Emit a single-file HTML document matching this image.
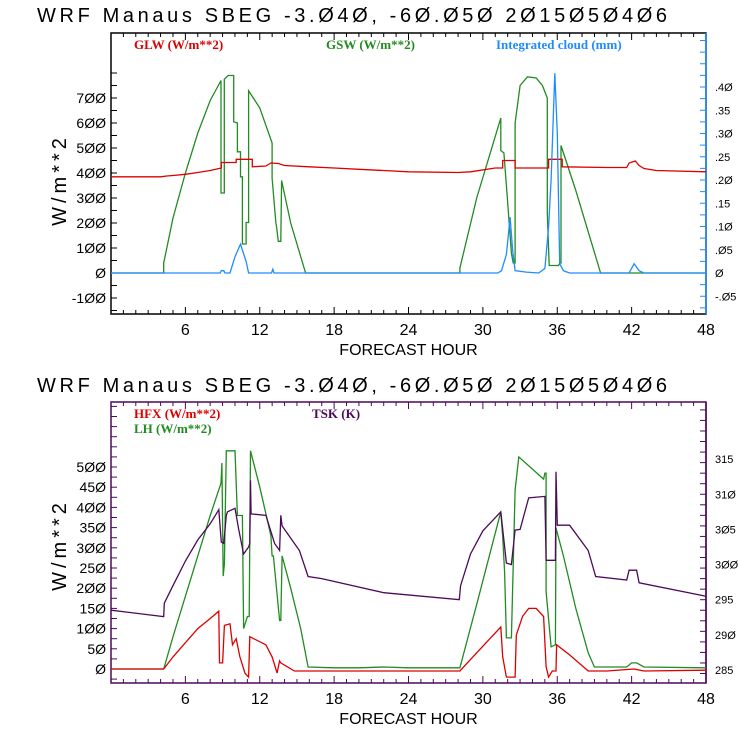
<!DOCTYPE html>
<html><head><meta charset="utf-8"><style>
html,body{margin:0;padding:0;background:#fff;}
svg{display:block;font-family:"Liberation Sans",sans-serif;}
</style></head><body>
<svg id="c" width="740" height="740" viewBox="0 0 740 740">
<text x="37" y="22" font-size="20" textLength="630" lengthAdjust="spacing" fill="#000">WRF  Manaus SBEG   -3.Ø4Ø, -6Ø.Ø5Ø  2Ø15Ø5Ø4Ø6</text>
<text x="37" y="392" font-size="20" textLength="630" lengthAdjust="spacing" fill="#000">WRF  Manaus SBEG   -3.Ø4Ø, -6Ø.Ø5Ø  2Ø15Ø5Ø4Ø6</text>
<g id="g1"></g>
<g id="g2"></g>
</svg>
<script>
// ---- Top chart data ----
const glwHours=[0,4,4.5,5,6,7,8,8.9,8.9,10.1,10.1,11.4,11.4,12.5,12.9,13.5,14,16,18,20,22,24,28,29,31,31.6,31.6,32.6,32.6,35.3,35.3,36.4,36.4,40,41.6,41.8,42.3,42.6,43,44,48];
const glwVals =[385,385,388,390,395,402,410,420,442,442,455,455,425,428,440,438,430,425,420,415,410,405,402,405,420,420,450,450,420,420,455,455,425,422,422,440,448,430,418,410,405];
const gswHours=[0,4.25,4.25,5,6,7,8,8.87,8.87,9.14,9.14,9.45,9.9,9.9,10.2,10.2,10.45,10.45,10.6,10.6,10.9,10.9,11.1,11.1,12,13,13,13.3,13.35,13.5,13.7,13.76,14.5,15.7,28.15,28.15,29.5,31.45,31.45,31.7,31.9,32.3,32.45,32.6,32.6,33.0,33.6,34.3,34.8,35.2,35.2,35.35,35.5,36.1,36.2,36.3,36.3,37.5,39.5,48];
const gswVals =[0,0,40,220,400,560,690,770,320,320,775,790,790,605,600,485,485,385,385,116,116,202,202,729,660,520,380,200,187,127,127,370,200,0,0,20,300,620,490,480,350,80,40,40,600,750,785,780,750,700,240,30,30,30,40,40,510,330,0,0];
const cldHours=[0,8.8,8.9,9.1,9.2,9.6,10.0,10.45,10.9,11.1,12.95,13.05,13.15,31.2,31.5,31.9,32.2,32.4,32.6,33.5,34.5,35.0,35.3,35.5,35.8,36.0,36.2,36.5,37.0,41.8,42.2,42.6,43,48];
const cldVals =[0,0,0.005,0.005,0,0,0.035,0.062,0.025,0,0,0.008,0,0,0.005,0.04,0.12,0.05,0.005,0.002,0,0.01,0.1,0.2,0.43,0.3,0.02,0.005,0,0,0.02,0.005,0,0];
const leftTicks1=[-100,0,100,200,300,400,500,600,700];
const rightTicks1=[-0.05,0,0.05,0.10,0.15,0.20,0.25,0.30,0.35,0.40];
const rightLabels1=["-.05","0",".05",".10",".15",".20",".25",".30",".35",".40"];
const hourTicks=[6,12,18,24,30,36,42,48];
// ---- Bottom chart data ----
const lhHours=[0,4.25,5,6,7,8,8.87,8.95,9.05,9.15,9.3,9.4,10.0,10.2,10.6,10.7,11.0,11.15,11.25,12,12.9,13.0,13.1,13.6,13.7,13.8,14.5,15.3,15.9,18,20,22,24,28.15,29.5,31.45,31.6,31.75,31.9,32.3,32.6,32.6,32.9,34.9,35.0,35.1,35.1,35.5,35.85,35.9,36.5,37.5,38.5,39.0,41.6,42.0,42.4,43,48];
const lhVals =[0,0,80,180,280,380,460,510,230,260,540,540,540,380,380,100,130,130,540,450,330,280,280,120,120,280,200,100,5,3,3,5,3,3,160,389,327,240,77,77,443,443,525,470,485,485,191,55,60,349,280,150,40,5,5,15,15,5,3];
const hfxHours=[0,4.25,5,6,7,8,8.7,8.75,9.0,9.15,9.6,9.8,10.1,10.4,10.8,11.1,11.2,12.5,13.0,13.4,13.6,13.7,14.8,20,28.15,29.5,31.45,31.6,31.9,32.6,32.7,33.2,33.7,34.3,34.9,35.1,35.3,35.6,35.9,35.95,37,38.5,40,42.2,43,48];
const hfxVals =[0,0,30,65,100,125,143,15,15,108,112,60,75,30,-10,-20,80,60,30,-10,20,15,-5,-5,-5,40,104,30,-20,-20,84,130,150,150,130,6,-20,-5,-5,60,35,-5,-5,0,-5,-3];
const tskHours=[0,4.25,4.3,5,6,7,8,8.7,8.9,9.1,9.3,9.4,10,10.3,10.7,11.1,11.2,11.25,11.3,12.5,13.2,13.6,13.7,13.8,15.2,15.9,17,22,28.1,28.2,29,30,31.45,31.9,32.3,32.6,33.0,33.7,35.0,35.1,35.2,35.85,35.9,36.0,37.0,38.5,39.1,41.6,41.8,42.4,42.6,48];
const tskVals =[293.5,292.6,294.5,297,300.5,303.5,305.8,307.8,303.2,303,307,307.5,308,305,301.5,302.5,303,312,307.2,307,303,302,307,305.5,302,298.3,298,296,295,297,301.5,304.8,307.5,300.2,300,304.9,305,309.5,309.7,300.6,300.6,300.6,313.2,305.6,305.6,302,298.3,297.8,299.2,299.2,297.4,295.5];
const leftTicks2=[0,50,100,150,200,250,300,350,400,450,500];
const rightTicks2=[285,290,295,300,305,310,315];

const NS="http://www.w3.org/2000/svg";
function el(parent,tag,attrs){const e=document.createElementNS(NS,tag);for(const k in attrs)e.setAttribute(k,attrs[k]);parent.appendChild(e);return e;}
const X0=111,X1=706;
function xs(h){return X0+(h/48)*(X1-X0);}

function line(g,hours,vals,ys,color,name){
  let d="";for(let i=0;i<hours.length;i++){d+=(i?"L":"M")+xs(hours[i]).toFixed(1)+","+ys(vals[i]).toFixed(1);}
  const p=el(g,"path",{d:d,fill:"none",stroke:color,"stroke-width":"1.3"});
  
  
}
function txt(g,x,y,s,attrs,name){const t=el(g,"text",Object.assign({x:x,y:y},attrs));t.textContent=s;
  
  
  return t;}

function frame(g,top,bot,boxColor,rightColor,leftScale,leftTicks,leftMinorStep,leftMin,leftMax,rightScale,rightTicks,rightLabels,rightMinorStep,rMin,rMax){
  const bx=el(g,"rect",{x:X0,y:top,width:X1-X0,height:bot-top,fill:"none",stroke:boxColor,"stroke-width":"1.5"});
  
  
  const rr=el(g,"line",{x1:X1,y1:top,x2:X1,y2:bot,stroke:rightColor,"stroke-width":"1.5"});
  
  
  for(let h=1;h<48;h++){const L=h%6===0?7:4;
    el(g,"line",{x1:xs(h),y1:bot,x2:xs(h),y2:bot-L,stroke:boxColor,"stroke-width":"1"});
    el(g,"line",{x1:xs(h),y1:top,x2:xs(h),y2:top+L,stroke:boxColor,"stroke-width":"1"});}
  for(const h of hourTicks){txt(g,xs(h),bot+21,String(h),{"font-size":"16","text-anchor":"middle",fill:"#000"},"x-tick-label");}
  for(let v=leftMin;v<=leftMax;v+=leftMinorStep){const y=leftScale(v);if(y<top||y>bot)continue;
    el(g,"line",{x1:X0,y1:y,x2:X0+6,y2:y,stroke:boxColor,"stroke-width":"1"});}
  for(const v of leftTicks){txt(g,X0-5,leftScale(v)+5,String(v).replace(/0/g,"Ø"),{"font-size":"14","text-anchor":"end",fill:"#000"},"y-tick-label");}
  for(let v=rMin;v<=rMax+1e-9;v+=rightMinorStep){const y=rightScale(v);if(y<top||y>bot)continue;
    el(g,"line",{x1:X1,y1:y,x2:X1-6,y2:y,stroke:rightColor,"stroke-width":"1"});}
  rightTicks.forEach((v,i)=>{txt(g,X1+9,rightScale(v)+4,String(rightLabels[i]).replace(/0/g,"Ø"),{"font-size":"11",fill:"#000"},"right-tick-label");});
  txt(g,(X0+X1)/2,bot+41,"FORECAST HOUR",{"font-size":"16","text-anchor":"middle",fill:"#000"},"x-axis-title");
}

// Top chart
const g1=document.getElementById("g1");
const y1=v=>273-v*0.25;
const r1=v=>273-v*465;
frame(g1,33,314,"#000","#1e8cff",y1,leftTicks1,50,-150,800,r1,rightTicks1,rightLabels1,0.025,-0.075,0.5);
txt(g1,0,0,"W/m**2",{"font-size":"20",fill:"#000",transform:"translate(66,180) rotate(-90)","text-anchor":"middle","letter-spacing":"4"},"y-axis-title");
line(g1,gswHours,gswVals,y1,"#228b22","gsw-line");
line(g1,glwHours,glwVals,y1,"#dd0000","glw-line");
line(g1,cldHours,cldVals,r1,"#1e8cff","cloud-line");
txt(g1,134,49,"GLW (W/m**2)",{"font-size":"13","font-family":"Liberation Serif, serif","font-weight":"bold",fill:"#dd0000"},"legend-glw");
txt(g1,326,49,"GSW (W/m**2)",{"font-size":"13","font-family":"Liberation Serif, serif","font-weight":"bold",fill:"#228b22"},"legend-gsw");
txt(g1,496,49,"Integrated cloud (mm)",{"font-size":"13","font-family":"Liberation Serif, serif","font-weight":"bold",fill:"#1e8cff"},"legend-cloud");

// Bottom chart
const g2=document.getElementById("g2");
const y2=v=>669-v*0.404;
const r2=v=>670-(v-285)*7.03;
frame(g2,402,683,"#4b0a5a","#4b0a5a",y2,leftTicks2,25,-25,700,r2,rightTicks2,rightTicks2,1.5,283,322);
txt(g2,0,0,"W/m**2",{"font-size":"20",fill:"#000",transform:"translate(66,545) rotate(-90)","text-anchor":"middle","letter-spacing":"4"},"y-axis-title");
line(g2,lhHours,lhVals,y2,"#228b22","lh-line");
line(g2,tskHours,tskVals,r2,"#4b0a5a","tsk-line");
line(g2,hfxHours,hfxVals,y2,"#dd0000","hfx-line");
txt(g2,134,418,"HFX (W/m**2)",{"font-size":"13","font-family":"Liberation Serif, serif","font-weight":"bold",fill:"#dd0000"},"legend-hfx");
txt(g2,134,433,"LH  (W/m**2)",{"font-size":"13","font-family":"Liberation Serif, serif","font-weight":"bold",fill:"#228b22"},"legend-lh");
txt(g2,312,418,"TSK (K)",{"font-size":"13","font-family":"Liberation Serif, serif","font-weight":"bold",fill:"#4b0a5a"},"legend-tsk");
</script>
</body></html>
